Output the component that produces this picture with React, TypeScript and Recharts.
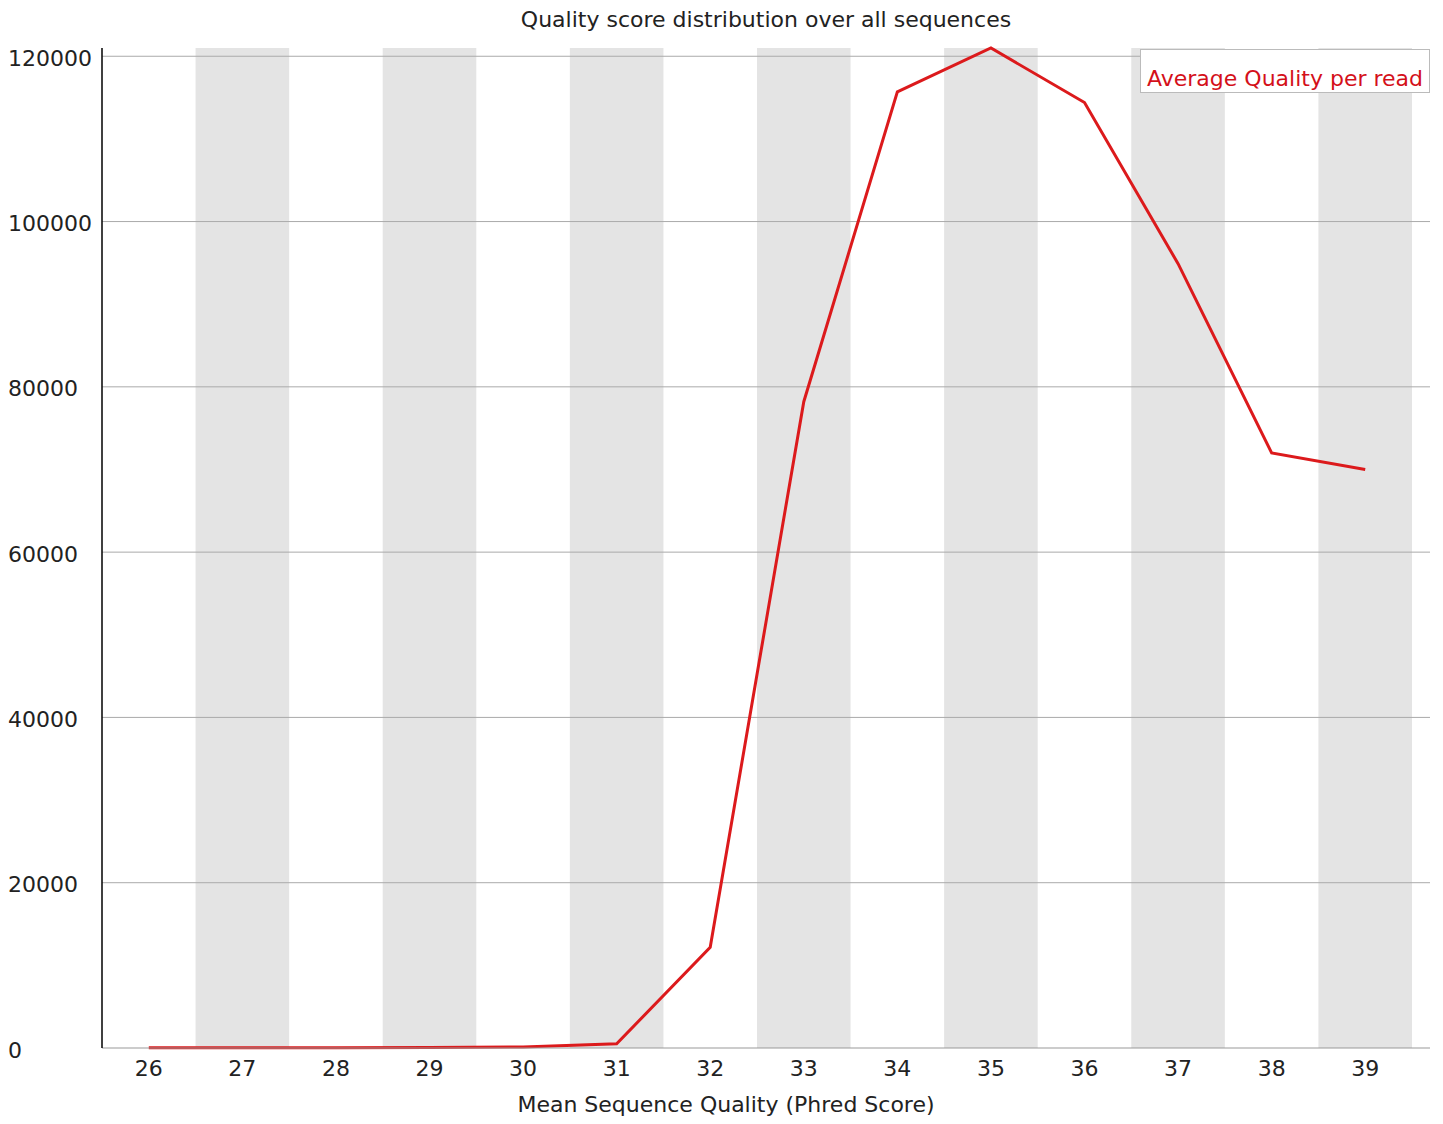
import { ComposedChart, Line, XAxis, YAxis, ReferenceArea, ReferenceLine } from 'recharts';

// Mean sequence quality (Phred) per read
const scores = ['26', '27', '28', '29', '30', '31', '32', '33', '34', '35', '36', '37', '38', '39'];
const readCounts = [30, 30, 40, 60, 120, 500, 12200, 78200, 115700, 121000, 114400, 94900, 72000, 70000];
const shadedScores = ['27', '29', '31', '33', '35', '37', '39'];
const yTicks = [0, 20000, 40000, 60000, 80000, 100000, 120000];

const data = scores.map((score, i) => ({ score, count: readCounts[i] }));

const FONT = '"DejaVu Sans", sans-serif';

const YTick = ({ y, payload }: any) => (
  <text x={8} y={y} dy={2} textAnchor="start" dominantBaseline="central" fontSize={22} fontFamily={FONT} fill="#222">
    {payload.value}
  </text>
);

const App = () => {
  return (
    <div style={{ position: 'absolute', left: 0, top: 0, width: 1443, height: 1124, background: '#fff', fontFamily: FONT }}>
      <div style={{ position: 'absolute', left: 102, width: 1328, top: 7, textAlign: 'center', fontSize: 22, color: '#222' }}>
        Quality score distribution over all sequences
      </div>
      <ComposedChart width={1443} height={1124} data={data} margin={{ top: 48, right: 13, bottom: 46, left: 8 }}>
        <XAxis
          dataKey="score"
          scale="band"
          height={30}
          padding={{ left: 0, right: 18 }}
          axisLine={{ stroke: '#999' }}
          tickLine={false}
          tick={{ fontSize: 22, fontFamily: FONT, fill: '#222' }}
          tickMargin={6}
        />
        <YAxis
          width={94}
          domain={[0, 'dataMax']}
          ticks={yTicks}
          axisLine={{ stroke: '#000', strokeWidth: 1.5 }}
          tickLine={false}
          tick={<YTick />}
        />
        {shadedScores.map((s) => (
          <ReferenceArea key={s} x1={s} x2={s} fill="#e4e4e4" fillOpacity={1} stroke="none" />
        ))}
        {yTicks.slice(1).map((t) => (
          <ReferenceLine key={t} y={t} stroke="#aaa" strokeWidth={1} />
        ))}
        <Line
          type="linear"
          dataKey="count"
          stroke="#dc1a1c"
          strokeWidth={3}
          dot={false}
          isAnimationActive={false}
        />
      </ComposedChart>
      <div
        style={{
          position: 'absolute',
          left: 1140,
          top: 49,
          width: 288,
          height: 42,
          border: '1px solid #bbb',
          background: '#fff',
          color: '#d4101a',
          fontSize: 22,
          lineHeight: '58px',
          textAlign: 'center',
        }}
      >
        Average Quality per read
      </div>
      <div style={{ position: 'absolute', left: 326, width: 800, top: 1092, textAlign: 'center', fontSize: 22, color: '#222' }}>
        Mean Sequence Quality (Phred Score)
      </div>
    </div>
  );
};

export default App;
